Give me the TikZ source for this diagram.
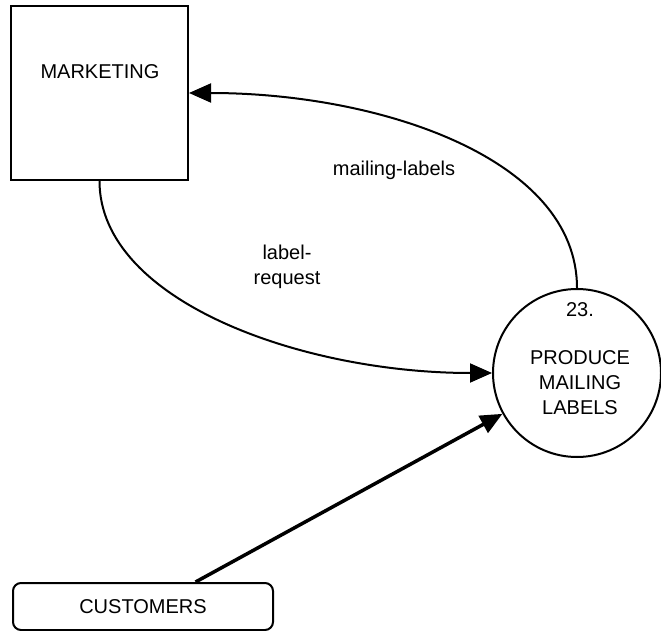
\documentclass[tikz,border=0pt]{standalone}
\usepackage{fontspec}
\setmainfont{Liberation Sans}
\usepackage{tikz}
\usetikzlibrary{positioning,arrows.meta,shapes.geometric}

\begin{document}
\begin{tikzpicture}[
  x=1pt, y=-1pt,
  font=\fontsize{20}{25}\selectfont,
  every node/.style={align=center},
  ext/.style    ={rectangle, draw=black, line width=2pt, inner sep=0pt},
  term/.style   ={rectangle, rounded corners=8pt, draw=black, line width=2pt,
                  minimum width=260pt, minimum height=47pt, inner sep=0pt},
  proc/.style   ={circle, draw=black, line width=2pt, minimum size=168pt, inner sep=0pt},
  txt/.style    ={inner sep=1pt},
  flow/.style   ={draw=black, line width=2pt, -{Triangle[length=22pt,width=19pt]}},
  flow-t/.style ={draw=black, line width=3.5pt, -{Triangle[length=22pt,width=19pt]}},
]
\useasboundingbox (0,0) rectangle (661,631);

% --- Entites externes ---
\node[ext, minimum width=177pt, minimum height=174pt] (mkt) at (99.5,93) {};
\node[txt] (mkttxt) at (100,72) {MARKETING};
\node[term] (cust) at (143,606.5) {CUSTOMERS};

% --- Processus 23 ---
\node[proc] (prod) at (577,373) {};
\node[txt] (prodnum) at (580,310) {23.};
\node[txt] (prodtxt) at (580,383) {PRODUCE\\MAILING\\LABELS};

% --- Flux ---
\draw[flow] (mkt.south) .. controls +(0,120) and +(-190,0) .. (prod.west);
\draw[flow] (prod.north) .. controls +(0,-130) and +(190,0) .. (mkt.east);
\draw[flow-t] (cust.25) -- (prod);

% --- Libelles ---
\node[txt] (lblreq) at (287,267) {label-\\request};
\node[txt] (lblmail) at (394,170) {mailing-labels};

\end{tikzpicture}
\end{document}
